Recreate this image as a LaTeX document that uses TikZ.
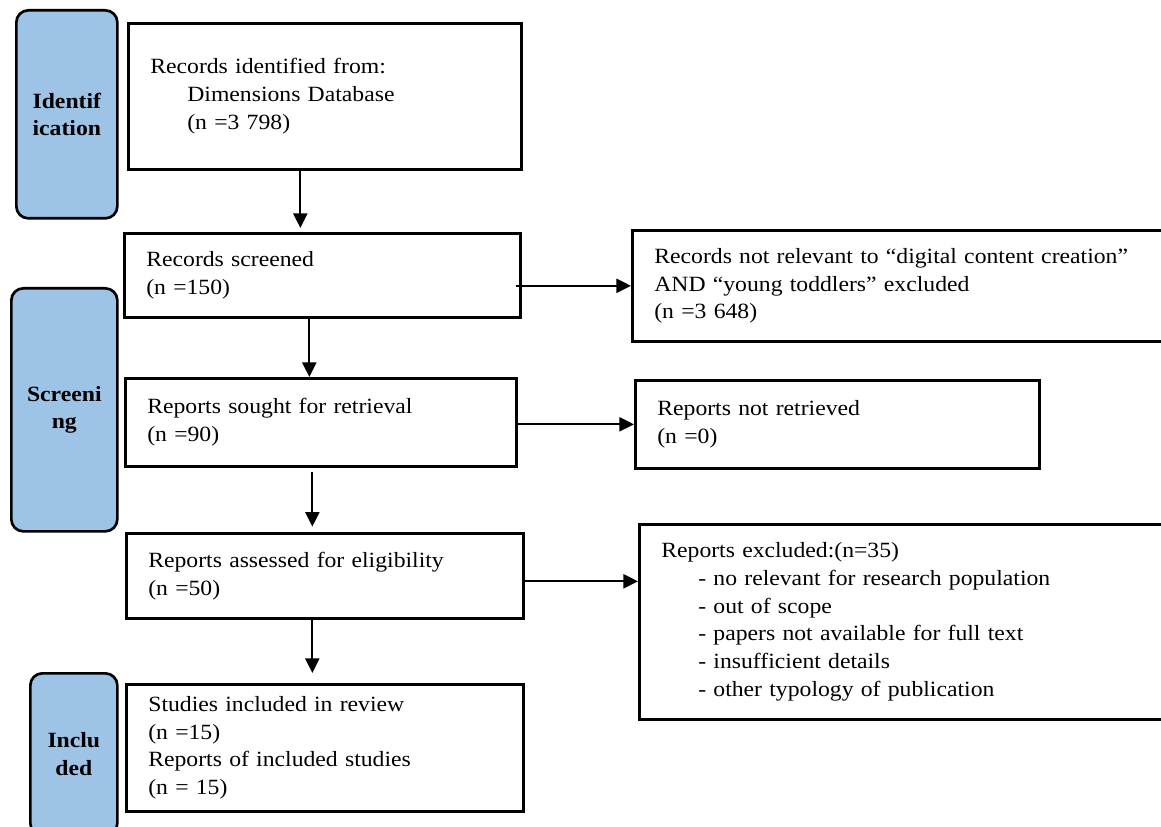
\documentclass[tikz,border=0pt]{standalone}
\usepackage{fontspec}
\setmainfont{Liberation Serif}[FakeStretch=1.09]
\usetikzlibrary{arrows.meta, positioning, calc}
\definecolor{stageblue}{RGB}{157, 195, 230}
\newlength{\px}
\setlength{\px}{0.75pt}
\tikzstyle{stage} = [rectangle, rounded corners=9pt, draw=black, line width=2pt, fill=stageblue, align=center, font=\fontsize{16.3}{20.8}\selectfont\bfseries, inner sep=0pt, anchor=north west]
\tikzstyle{process} = [rectangle, draw=black, line width=2pt, align=left, inner xsep=22\px, inner ysep=0pt, anchor=north west]
\tikzstyle{arrow} = [line width=1.7pt, -{Triangle[length=11pt, width=10.5pt]}]

\begin{document}
\begin{tikzpicture}[x=0.75pt, y=-0.75pt, font=\fontsize{16.3}{20.8}\selectfont]
\useasboundingbox (0,0) rectangle (1161,827);
\clip (0,0) rectangle (1161,827);

% Stages
\node (ident) [stage, minimum width=101\px, minimum height=208\px] at (15,9) {Identif\\ication};
\node (scr) [stage, minimum width=106\px, minimum height=243\px] at (10,287) {Screeni\\ng};
\node (inc) [stage, minimum width=87\px, minimum height=162\px] at (29,672) {Inclu\\ded};

% Main column
\node (rec) [process, text width=349\px, minimum height=146\px] at (127,22) {Records identified from:\\\hspace*{37\px}Dimensions Database\\\hspace*{37\px}(n =3 798)};
\node (screen) [process, text width=352\px, minimum height=84\px] at (123,232) {Records screened\\(n =150)};
\node (sought) [process, text width=347\px, minimum height=88\px] at (124,377) {Reports sought for retrieval\\(n =90)};
\node (assess) [process, text width=353\px, minimum height=85\px] at (125,532) {Reports assessed for eligibility\\(n =50)};
\node (incl) [process, text width=353\px, minimum height=127\px] at (125,683) {Studies included in review\\(n =15)\\Reports of included studies\\(n = 15)};

% Exclusions
\node (notrel) [process, text width=505\px, minimum height=111\px] at (631,229) {Records not relevant to “digital content creation”\\AND “young toddlers” excluded\\(n =3 648)};
\node (notret) [process, text width=360\px, minimum height=88\px] at (634,379) {Reports not retrieved\\(n =0)};
\node (excl) [process, text width=498\px, minimum height=195\px] at (638,523) {Reports excluded:(n=35)\\\hspace*{37\px}- no relevant for research population\\\hspace*{37\px}- out of scope\\\hspace*{37\px}- papers not available for full text\\\hspace*{37\px}- insufficient details\\\hspace*{37\px}- other typology of publication};

% Arrows
\coordinate (a1) at ([xshift=-24.5\px]rec.south);
\draw [arrow, shorten >=3pt] (a1) -- (a1 |- screen.north);
\coordinate (a3) at ([xshift=-13\px]screen.south);
\draw [arrow] (a3) -- (a3 |- sought.north);
\coordinate (a5) at ([xshift=-8.5\px]sought.south);
\draw [arrow, shorten <=3pt, shorten >=4pt] (a5) -- (a5 |- assess.north);
\coordinate (a7) at ([xshift=-12.5\px]assess.south);
\draw [arrow, shorten >=7.5pt] (a7) -- (a7 |- incl.north);

\coordinate (a2) at ([xshift=-6\px]screen.east);
\draw [arrow] (a2 |- notrel.west) -- (notrel.west);
\draw [arrow] (sought.east |- notret.west) -- (notret.west);
\coordinate (a6) at ([yshift=-5.5\px]assess.east);
\draw [arrow] (a6) -- (a6 -| excl.west);

\end{tikzpicture}
\end{document}
